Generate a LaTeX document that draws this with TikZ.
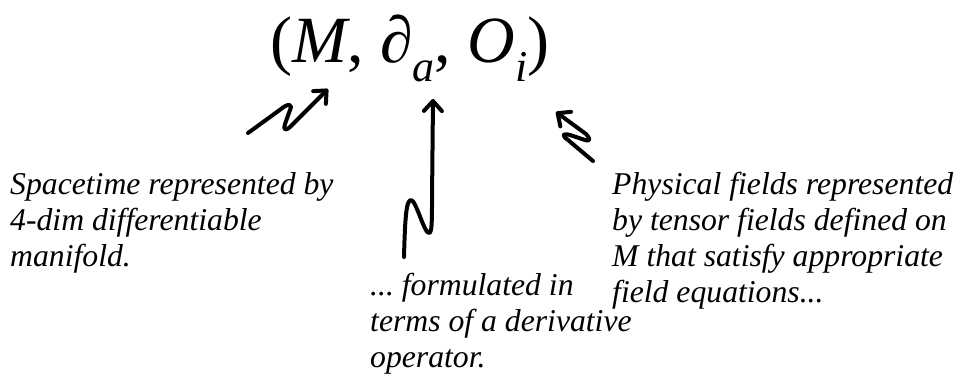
\documentclass[tikz,border=0pt]{standalone}
\usepackage{fontspec}
\setmainfont{Liberation Serif}[ItalicFont={Liberation Serif Italic}]
\usetikzlibrary{arrows.meta}
\frenchspacing
\begin{document}
\begin{tikzpicture}[x=1pt,y=-1pt,
  lbl/.style={anchor=base west,align=left,inner sep=0pt,
    font=\fontsize{31.7}{36}\selectfont\itshape},
  zig/.style={line width=4pt,line cap=round,line join=round,
    -{Straight Barb[length=10pt,width=18pt,round]}}]
\useasboundingbox (0,0) rectangle (960,376);
\node[inner sep=0pt,anchor=base] (title) at (410,62)
  {\fontsize{66}{70}\selectfont (\textit{M}, \textit{∂}\raisebox{-0.3em}{\fontsize{44}{44}\selectfont\itshape a}, \textit{O}\raisebox{-0.3em}{\fontsize{44}{44}\selectfont\itshape i})};
\node[lbl] (left) at (10,266) {Spacetime represented by\\4-dim differentiable\\manifold.};
\node[lbl] (right) at (612,302) {Physical fields represented\\by tensor fields defined on\\M that satisfy appropriate\\field equations...};
\node[lbl] (bottom) at (370,367) {... formulated in\\terms of a derivative\\operator.};
% arrow 1
\coordinate (a1s) at (248,133);
\coordinate (a1t) at (328,89);
\draw[zig] (a1s) -- (281,109) .. controls (288,103) and (293,104) .. (290,110)
  -- (285,124) .. controls (283,131) and (286,131) .. (291,126) -- (a1t);
% arrow 2
\coordinate (a2s) at (404,257);
\coordinate (a2t) at (433,99);
\draw[zig] (a2s) .. controls (405,220) and (406,200) .. (411,200)
  .. controls (416,200) and (424,233) .. (429,233)
  .. controls (432,233) and (432,220) .. (432,200) -- (a2t);
% arrow 3
\coordinate (a3s) at (593,161);
\coordinate (a3t) at (556,112);
\draw[zig] (a3s) -- (568,140) .. controls (561,135) and (563,133) .. (570,135)
  -- (585,140) .. controls (591,142) and (590,138) .. (586,134) -- (a3t);
\end{tikzpicture}
\end{document}
